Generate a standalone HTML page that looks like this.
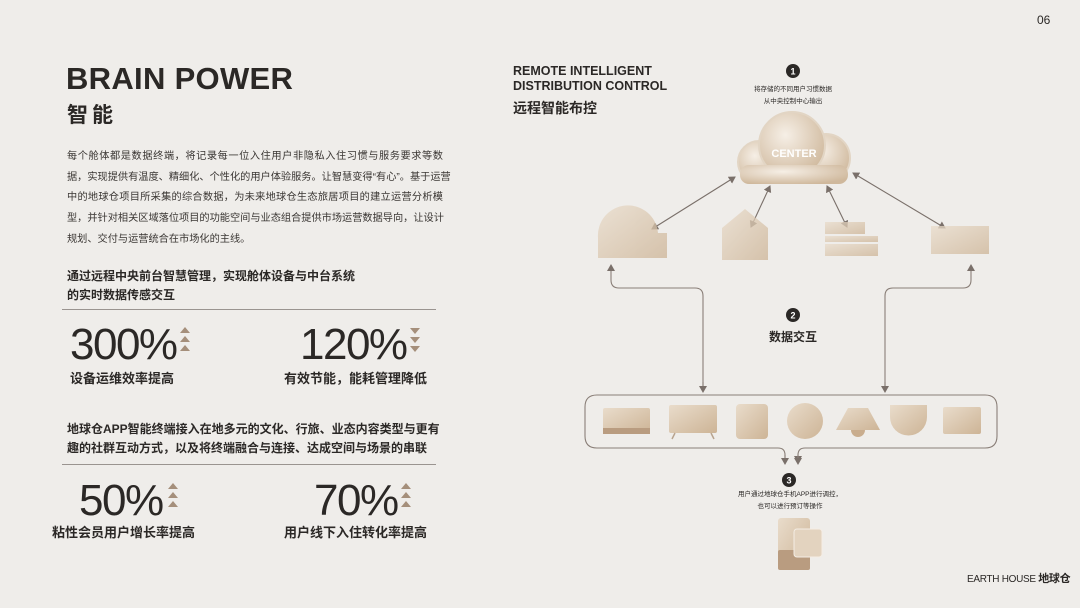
<!DOCTYPE html>
<html><head><meta charset="utf-8"><style>
body{margin:0;width:1080px;height:608px;background:#efedea;font-family:"Liberation Sans","Noto Sans CJK SC",sans-serif;color:#2b2826;position:relative;overflow:hidden}
.a{position:absolute;white-space:nowrap}
.b{font-weight:bold}
.num{font-size:44px;letter-spacing:-1.5px;color:#2b2826;line-height:1}
.lab{font-size:13px;font-weight:bold}
.pl{width:376px;text-align:justify;text-align-last:justify;height:20.7px;white-space:nowrap;overflow:visible}
.pl.last{text-align-last:left}
</style></head><body>
<div class="a" style="left:1037px;top:13px;font-size:12px">06</div>
<div class="a b" style="left:66px;top:61px;font-size:31px;letter-spacing:0.3px">BRAIN POWER</div>
<div class="a b" style="left:67px;top:99px;font-size:21px;letter-spacing:4px">智能</div>
<div class="a" style="left:67px;top:147px;font-size:10.2px;line-height:20.7px;color:#3a3633">
<div class="pl">每个舱体都是数据终端，将记录每一位入住用户非隐私入住习惯与服务要求等数</div>
<div class="pl">据，实现提供有温度、精细化、个性化的用户体验服务。让智慧变得“有心”。基于运营</div>
<div class="pl">中的地球仓项目所采集的综合数据，为未来地球仓生态旅居项目的建立运营分析模</div>
<div class="pl">型，并针对相关区域落位项目的功能空间与业态组合提供市场运营数据导向，让设计</div>
<div class="pl last">规划、交付与运营统合在市场化的主线。</div>
</div>
<div class="a b" style="left:67px;top:267px;font-size:12px;line-height:19px">通过远程中央前台智慧管理，实现舱体设备与中台系统<br>的实时数据传感交互</div>
<div class="a" style="left:62px;top:309px;width:374px;height:1px;background:#9a9490"></div>
<div class="a num" style="left:70px;top:323px">300%</div>
<div class="a lab" style="left:70px;top:368px">设备运维效率提高</div>
<div class="a num" style="left:300px;top:323px">120%</div>
<div class="a lab" style="left:284px;top:368px">有效节能，能耗管理降低</div>
<div class="a b" style="left:67px;top:420px;font-size:12px;line-height:19px">地球仓APP智能终端接入在地多元的文化、行旅、业态内容类型与更有<br>趣的社群互动方式，以及将终端融合与连接、达成空间与场景的串联</div>
<div class="a" style="left:62px;top:464px;width:374px;height:1px;background:#9a9490"></div>
<div class="a num" style="left:79px;top:479px">50%</div>
<div class="a lab" style="left:52px;top:522px">粘性会员用户增长率提高</div>
<div class="a num" style="left:314px;top:479px">70%</div>
<div class="a lab" style="left:284px;top:522px">用户线下入住转化率提高</div>

<div class="a b" style="left:513px;top:64px;font-size:12.5px;line-height:15px">REMOTE INTELLIGENT<br>DISTRIBUTION CONTROL</div>
<div class="a b" style="left:513px;top:98px;font-size:14px">远程智能布控</div>
<div class="a" style="left:740px;top:84px;width:106px;text-align:center;font-size:6.5px;line-height:12px">将存储的不同用户习惯数据<br>从中央控制中心输出</div>
<div class="a b" style="left:740px;top:328px;width:106px;text-align:center;font-size:12px">数据交互</div>
<div class="a" style="left:720px;top:489px;width:140px;text-align:center;font-size:6.5px;line-height:12px">用户通过地球仓手机APP进行调控，<br>也可以进行预订等操作</div>
<div class="a" style="left:967px;top:570px;font-size:10px;letter-spacing:-0.3px">EARTH HOUSE <b style="font-size:11px">地球仓</b></div>

<svg class="a" style="left:0;top:0" width="1080" height="608">
<defs>
<linearGradient id="g" x1="0" y1="0" x2="1" y2="1"><stop offset="0" stop-color="#e9dccb"/><stop offset="1" stop-color="#cdb496"/></linearGradient>
<radialGradient id="c" cx="0.4" cy="0.35" r="0.7"><stop offset="0" stop-color="#f6efe6"/><stop offset="1" stop-color="#cfb89c"/></radialGradient>
<marker id="ar" markerWidth="8" markerHeight="8" refX="6" refY="4" orient="auto-start-reverse" markerUnits="userSpaceOnUse"><path d="M0,0 L7,4 L0,8 Z" fill="#7a706a"/></marker>
</defs>
<g fill="#a58f7b">
<path d="M185,327 l-5,6 h10z M185,336 l-5,6 h10z M185,345 l-5,6 h10z"/>
<path d="M410,328 h10 l-5,6z M410,337 h10 l-5,6z M410,346 h10 l-5,6z"/>
<path d="M173,483 l-5,6 h10z M173,492 l-5,6 h10z M173,501 l-5,6 h10z"/>
<path d="M406,483 l-5,6 h10z M406,492 l-5,6 h10z M406,501 l-5,6 h10z"/>
</g>
<g font-family="Liberation Sans" font-weight="bold" font-size="9" fill="#fff" text-anchor="middle">
<circle cx="793" cy="71" r="7" fill="#2b2826"/><text x="793" y="74.5">1</text>
<circle cx="793" cy="315" r="7" fill="#2b2826"/><text x="793" y="318.5">2</text>
<circle cx="789" cy="480" r="7" fill="#2b2826"/><text x="789" y="483.5">3</text>
</g>
<g stroke="#e2d5c4" stroke-width="2">
<circle cx="759" cy="162" r="21" fill="url(#c)"/>
<circle cx="826" cy="158" r="24" fill="url(#c)"/>
<circle cx="792" cy="145" r="33" fill="url(#c)"/>
<rect x="740" y="165" width="108" height="19" rx="9" fill="url(#c)" stroke="none"/>
</g>
<text x="794" y="157" font-family="Liberation Sans" font-weight="bold" font-size="11" fill="#fff" text-anchor="middle">CENTER</text>
<g stroke="#7a706a" stroke-width="1.1" fill="none" marker-start="url(#ar)" marker-end="url(#ar)">
<line x1="735" y1="177" x2="652" y2="229"/>
<line x1="770" y1="186" x2="751" y2="227"/>
<line x1="827" y1="186" x2="847" y2="227"/>
<line x1="853" y1="173" x2="945" y2="228"/>
</g>
<g fill="url(#g)" opacity="0.75">
<path d="M598,258 v-20 a30,30 0 0 1 60,-5 h9 v25z"/>
<path d="M722,260 v-32 l23,-19 l23,19 v32z"/>
<rect x="825" y="222" width="40" height="12"/><rect x="825" y="236" width="53" height="6"/><rect x="825" y="244" width="53" height="12"/>
<rect x="931" y="226" width="58" height="28"/>
</g>
<g stroke="#8a7f78" stroke-width="1.1" fill="none">
<path d="M703,388 V296 q0,-8 -8,-8 H619 q-8,0 -8,-8 V265" marker-end="url(#ar)"/>
<path d="M885,388 V296 q0,-8 8,-8 H963 q8,0 8,-8 V265" marker-end="url(#ar)"/>
<path d="M703,382 V392" marker-end="url(#ar)"/>
<path d="M885,382 V392" marker-end="url(#ar)"/>
<path d="M785,462 V455 q0,-7 -7,-7 H597 q-12,0 -12,-12 V407 q0,-12 12,-12 H985 q12,0 12,12 V436 q0,12 -12,12 H805 q-7,0 -7,7 V462" marker-end="url(#ar)"/>
<path d="M785,455 V464" marker-end="url(#ar)"/>
<path d="M798,455 V464" marker-end="url(#ar)"/>
</g>
<g fill="url(#g)">
<rect x="603" y="408" width="47" height="25" rx="2"/><rect x="603" y="428" width="47" height="6" fill="#b99c80"/>
<rect x="669" y="405" width="48" height="28" rx="2"/><path d="M675,433 l-3,6 M711,433 l3,6" stroke="#b8a48f" stroke-width="1.5"/>
<rect x="736" y="404" width="32" height="35" rx="4"/>
<circle cx="805" cy="421" r="18"/>
<path d="M836,430 l12,-22 h20 l12,22z"/><path d="M851,430 a7,7 0 0 0 14,0z" fill="#c9ad8e"/>
<path d="M890,405 h37 v12 a18,18 0 0 1 -37,0z"/>
<rect x="943" y="407" width="38" height="27" rx="2"/>
<rect x="778" y="518" width="32" height="52" rx="3"/><rect x="778" y="550" width="32" height="20" rx="2" fill="#b99c80"/>
<rect x="794" y="529" width="28" height="28" rx="3" fill="#e3d3bf" stroke="#f4ede4"/>
</g>
</svg>
</body></html>
